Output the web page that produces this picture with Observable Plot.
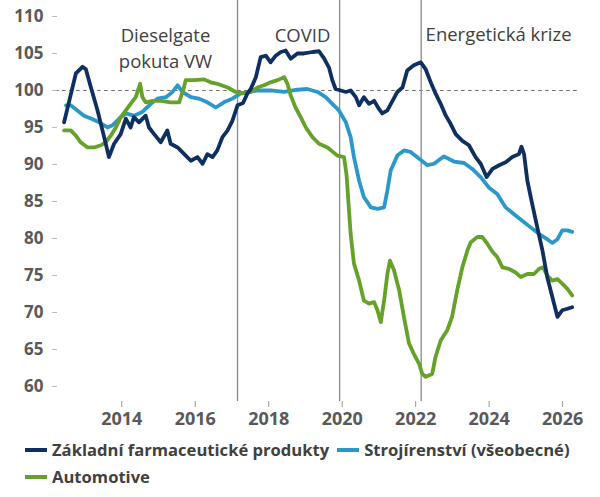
<!DOCTYPE html>
<html>
<head>
<meta charset="utf-8">
<script src="https://cdn.jsdelivr.net/npm/d3@7"></script>
<script src="https://cdn.jsdelivr.net/npm/@observablehq/plot@0.6"></script>
<style>
  html, body { margin: 0; padding: 0; background: #fff; }
  #legend { display: flex; flex-wrap: wrap; width: 590px; padding-left: 25px; box-sizing: border-box;
            font-family: 'Open Sans', sans-serif; font-weight: 700; font-size: 16.6px; color: #404040; line-height: 27px; }
  .item { display: inline-flex; align-items: center; margin-right: 8px; white-space: nowrap; }
  .sw { display: inline-block; width: 22px; height: 4px; margin-right: 5px; }
</style>
</head>
<body>
<div id="chart"></div>
<div id="legend"></div>
<script>
// Series names and colours
const seriesNames = ["Základní farmaceutické produkty", "Strojírenství (všeobecné)", "Automotive"];
const seriesColors = ["#0e2f5f", "#2c98c9", "#66a22a"];

// [decimal year, index value]
const farma = [[2012.43,95.7],[2012.57,98.6],[2012.75,102.3],[2012.93,103.2],[2013.02,102.9],[2013.16,100.4],[2013.34,97.3],[2013.52,93.7],[2013.65,91.0],[2013.79,92.8],[2013.97,94.1],[2014.11,96.2],[2014.24,95.0],[2014.33,96.4],[2014.47,95.7],[2014.65,96.6],[2014.74,95.0],[2014.88,94.1],[2015.06,93.0],[2015.24,94.6],[2015.33,92.8],[2015.52,92.3],[2015.70,91.4],[2015.88,90.5],[2016.06,91.0],[2016.20,90.1],[2016.33,91.4],[2016.47,91.0],[2016.60,91.9],[2016.74,93.7],[2016.88,94.6],[2017.01,95.9],[2017.15,98.0],[2017.30,98.3],[2017.42,99.6],[2017.51,100.2],[2017.65,101.8],[2017.78,104.5],[2017.92,104.7],[2018.05,103.8],[2018.19,104.7],[2018.33,105.2],[2018.46,105.4],[2018.60,104.3],[2018.78,105.0],[2018.96,105.0],[2019.19,105.2],[2019.37,105.3],[2019.51,104.3],[2019.64,103.1],[2019.73,101.4],[2019.82,100.2],[2019.96,100.0],[2020.10,99.8],[2020.23,100.0],[2020.37,99.1],[2020.46,98.0],[2020.59,99.1],[2020.73,98.2],[2020.87,98.6],[2021.00,97.5],[2021.09,96.9],[2021.23,97.3],[2021.37,98.6],[2021.50,99.8],[2021.64,100.4],[2021.77,102.7],[2021.95,103.4],[2022.14,103.8],[2022.27,102.9],[2022.41,101.1],[2022.54,99.6],[2022.68,98.2],[2022.82,96.6],[2022.95,95.5],[2023.09,94.1],[2023.27,93.2],[2023.45,92.6],[2023.63,91.0],[2023.77,90.1],[2023.93,88.3],[2024.09,89.4],[2024.27,89.9],[2024.45,90.3],[2024.63,91.0],[2024.81,91.4],[2024.88,92.4],[2024.95,91.4],[2025.04,87.8],[2025.17,84.7],[2025.31,81.5],[2025.45,78.4],[2025.58,74.8],[2025.72,72.1],[2025.86,69.4],[2025.99,70.3],[2026.13,70.5],[2026.26,70.7]];

const stroj = [[2012.48,98.0],[2012.61,98.0],[2012.79,97.3],[2012.97,96.6],[2013.16,96.2],[2013.38,95.7],[2013.61,95.0],[2013.75,95.3],[2013.93,96.2],[2014.11,96.9],[2014.33,96.6],[2014.56,97.1],[2014.79,98.2],[2014.97,98.9],[2015.20,99.1],[2015.38,99.8],[2015.52,100.7],[2015.65,99.8],[2015.88,99.1],[2016.10,98.9],[2016.33,98.4],[2016.56,97.7],[2016.78,98.4],[2017.01,98.9],[2017.24,99.6],[2017.46,99.8],[2017.69,100.0],[2018.05,100.0],[2018.42,99.8],[2018.78,100.1],[2019.05,100.2],[2019.33,99.8],[2019.55,99.1],[2019.73,98.2],[2019.91,97.3],[2020.10,95.7],[2020.23,93.7],[2020.32,91.0],[2020.46,87.8],[2020.59,85.6],[2020.78,84.2],[2020.96,84.0],[2021.14,84.2],[2021.23,86.5],[2021.32,89.2],[2021.50,91.2],[2021.68,91.9],[2021.86,91.7],[2022.09,90.8],[2022.32,89.9],[2022.50,90.1],[2022.77,91.1],[2023.04,90.4],[2023.32,90.2],[2023.54,89.4],[2023.77,88.3],[2023.99,86.9],[2024.22,86.0],[2024.45,84.2],[2024.67,83.3],[2024.90,82.4],[2025.13,81.5],[2025.36,80.6],[2025.58,79.9],[2025.72,79.4],[2025.86,79.9],[2025.99,81.1],[2026.13,81.1],[2026.26,80.9]];

const auto = [[2012.43,94.6],[2012.61,94.6],[2012.75,93.9],[2012.88,93.0],[2013.07,92.3],[2013.25,92.3],[2013.43,92.6],[2013.56,93.0],[2013.70,93.9],[2013.84,95.0],[2013.97,96.4],[2014.11,97.3],[2014.24,98.2],[2014.38,99.1],[2014.50,100.9],[2014.56,99.1],[2014.65,98.4],[2014.84,98.6],[2015.06,98.6],[2015.33,98.4],[2015.56,98.4],[2015.68,100.2],[2015.74,101.4],[2015.97,101.4],[2016.24,101.5],[2016.42,101.1],[2016.60,100.9],[2016.88,100.4],[2017.10,99.8],[2017.28,99.6],[2017.51,99.8],[2017.69,100.4],[2017.87,100.7],[2018.05,101.1],[2018.24,101.4],[2018.42,101.8],[2018.51,100.9],[2018.60,99.3],[2018.73,97.7],[2018.87,96.4],[2019.01,95.0],[2019.19,93.7],[2019.37,92.8],[2019.60,92.3],[2019.87,91.2],[2020.05,91.0],[2020.12,88.5],[2020.23,80.6],[2020.32,76.6],[2020.46,74.3],[2020.59,71.6],[2020.73,71.2],[2020.87,71.4],[2020.96,70.3],[2021.05,68.7],[2021.14,71.6],[2021.23,75.2],[2021.30,77.0],[2021.41,75.7],[2021.55,73.0],[2021.68,69.4],[2021.82,65.8],[2021.95,64.4],[2022.09,63.1],[2022.18,61.7],[2022.27,61.3],[2022.45,61.7],[2022.54,64.0],[2022.68,66.2],[2022.86,67.6],[2022.99,69.4],[2023.13,73.0],[2023.27,76.1],[2023.41,78.4],[2023.50,79.5],[2023.68,80.2],[2023.81,80.2],[2023.95,79.3],[2024.09,78.2],[2024.22,77.5],[2024.36,76.1],[2024.54,75.9],[2024.72,75.4],[2024.86,74.8],[2025.04,75.2],[2025.22,75.2],[2025.36,75.9],[2025.47,76.1],[2025.58,75.0],[2025.72,74.3],[2025.86,74.5],[2025.99,73.9],[2026.13,73.2],[2026.26,72.3]];

// Events (decimal year) and labels
const eventYears = [2017.15, 2019.93, 2022.15];
const notesMiddle = [
  {t: 2015.19, v: 105.94, text: "Dieselgate\npokuta VW"},
  {t: 2018.92, v: 107.7, text: "COVID"}
];
const notesStart = [
  {t: 2022.27, v: 107.43, text: "Energetická krize"}
];

const xTicks = [2014, 2016, 2018, 2020, 2022, 2024, 2026];
const yTicks = [60, 65, 70, 75, 80, 85, 90, 95, 100, 105, 110];
const baseline = 100;

const toRows = (arr, name) => arr.map(([t, v]) => ({t, v, series: name}));
const data = [
  ...toRows(stroj, seriesNames[1]),
  ...toRows(auto, seriesNames[2]),
  ...toRows(farma, seriesNames[0])
];

const chart = Plot.plot({
  width: 600,
  height: 436,
  marginLeft: 57,
  marginRight: 14,
  marginTop: 0,
  marginBottom: 35,
  x: {domain: [2012.25, 2026.65]},
  y: {domain: [57.97, 112.16]},
  color: {domain: seriesNames, range: seriesColors},
  style: {fontFamily: "'Open Sans', sans-serif", background: "white", overflow: "visible"},
  marks: [
    Plot.ruleY([baseline], {x1: 2012.2, x2: 2026.48, stroke: "#666", strokeWidth: 1, strokeDasharray: "3.5,3.5"}),
    Plot.ruleX(eventYears, {stroke: "#8a8a8a", strokeWidth: 1.3}),
    Plot.axisY({ticks: yTicks, tickSize: 5, tickPadding: 9, fontSize: 17, fontWeight: 700, fill: "#595959", stroke: "#bbb", label: null}),
    Plot.axisX({ticks: xTicks, tickFormat: d => String(d), tickSize: 6, tickPadding: 5, fontSize: 18, fontWeight: 700, fill: "#595959", stroke: "#999", label: null}),
    Plot.line(data, {x: "t", y: "v", z: "series", stroke: "series", strokeWidth: 3.8, strokeLinejoin: "round", strokeLinecap: "round"}),
    Plot.text(notesMiddle, {x: "t", y: "v", text: "text", textAnchor: "middle", fontSize: 18.5, lineHeight: 1.4, fill: "#404040"}),
    Plot.text(notesStart, {x: "t", y: "v", text: "text", textAnchor: "start", fontSize: 18.5, fill: "#404040"})
  ]
});
document.getElementById("chart").appendChild(chart);

const legend = document.getElementById("legend");
seriesNames.forEach((name, i) => {
  const item = document.createElement("span");
  item.className = "item";
  const sw = document.createElement("span");
  sw.className = "sw";
  sw.style.background = seriesColors[i];
  item.appendChild(sw);
  item.appendChild(document.createTextNode(name));
  legend.appendChild(item);
});
</script>
</body>
</html>
